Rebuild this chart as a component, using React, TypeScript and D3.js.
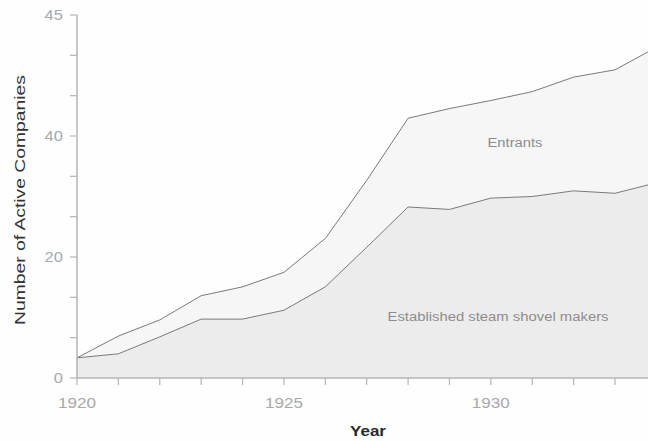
import React from "react";
import * as d3 from "d3";

const years = [1920, 1921, 1922, 1923, 1924, 1925, 1926, 1927, 1928, 1929, 1930, 1931, 1932, 1933, 1934];
const established = [2.5, 3.0, 5.1, 7.3, 7.3, 8.4, 11.3, 16.2, 21.2, 20.9, 22.3, 22.5, 23.2, 22.9, 24.2];
const total = [2.5, 5.2, 7.2, 10.2, 11.3, 13.1, 17.3, 24.5, 32.2, 33.4, 34.4, 35.5, 37.3, 38.2, 41.0];
const yTickValues = [0, 5, 10, 15, 20, 25, 30, 35, 40, 45];
const yTickLabels = ["0", "", "", "20", "", "", "40", "", "", "45"];
const xTickValues = [1920, 1921, 1922, 1923, 1924, 1925, 1926, 1927, 1928, 1929, 1930, 1931, 1932, 1933];
const xTickLabels = ["1920", "", "", "", "", "1925", "", "", "", "", "1930", "", "", ""];

export default function App() {
  const W = 648, H = 441;
  const x = d3.scaleLinear().domain([1920, 1933]).range([77, 615]);
  const y = d3.scaleLinear().domain([0, 45]).range([378, 15]);
  const data = years.map((yr, i) => ({ yr, est: established[i], tot: total[i] }));

  const lowerArea = d3.area<any>().x(d => x(d.yr)).y0(y(0)).y1(d => y(d.est))(data) || "";
  const upperArea = d3.area<any>().x(d => x(d.yr)).y0(d => y(d.est)).y1(d => y(d.tot))(data) || "";
  const estLine = d3.line<any>().x(d => x(d.yr)).y(d => y(d.est))(data) || "";
  const totLine = d3.line<any>().x(d => x(d.yr)).y(d => y(d.tot))(data) || "";

  const font = "'Liberation Sans', Arial, Helvetica, sans-serif";
  const axisColor = "#b4b4b4";
  const tickText = "#a8a8a8";

  return (
    <svg width={W} height={H} style={{ position: "fixed", left: 0, top: 0, background: "#fefefe" }}>
      <defs>
        <clipPath id="plotclip">
          <rect x={0} y={0} width={W} height={H} />
        </clipPath>
      </defs>
      <rect x={0} y={0} width={W} height={H} fill="#fefefe" />
      <g clipPath="url(#plotclip)">
        <path d={lowerArea} fill="#ececec" />
        <path d={upperArea} fill="#f6f6f6" />
        <path d={totLine} fill="none" stroke="#7a7a7a" strokeWidth={1} />
        <path d={estLine} fill="none" stroke="#7a7a7a" strokeWidth={1} />
      </g>

      {/* y axis */}
      <line x1={x(1920)} x2={x(1920)} y1={y(45)} y2={y(0)} stroke={axisColor} strokeWidth={1.5} />
      {yTickValues.map((v, i) => (
        <g key={"yt" + v}>
          <line x1={x(1920) - 7} x2={x(1920)} y1={y(v)} y2={y(v)} stroke={axisColor} strokeWidth={1.2} />
          {yTickLabels[i] && (
            <text x={x(1920) - 14} y={y(v)} dy="0.36em" textAnchor="end" fontFamily={font}
              fontSize={14} fill={tickText}
              textLength={yTickLabels[i].length * 9.2} lengthAdjust="spacingAndGlyphs">
              {yTickLabels[i]}
            </text>
          )}
        </g>
      ))}

      {/* x axis */}
      <line x1={x(1920)} x2={W} y1={y(0)} y2={y(0)} stroke={axisColor} strokeWidth={1.5} />
      {xTickValues.map((v, i) => (
        <g key={"xt" + v}>
          <line x1={x(v)} x2={x(v)} y1={y(0)} y2={y(0) + 7} stroke={axisColor} strokeWidth={1.2} />
          {xTickLabels[i] && (
            <text x={x(v)} y={408} textAnchor="middle" fontFamily={font} fontSize={14} fill={tickText}
              textLength={38} lengthAdjust="spacingAndGlyphs">
              {xTickLabels[i]}
            </text>
          )}
        </g>
      ))}

      {/* axis titles */}
      <text x={368} y={436} textAnchor="middle" fontFamily={font} fontSize={14} fontWeight="bold" fill="#2a2a2a"
        textLength={36} lengthAdjust="spacingAndGlyphs">Year</text>
      <text transform="translate(25,200) rotate(-90)" textAnchor="middle" fontFamily={font} fontSize={14}
        fill="#333" textLength={250} lengthAdjust="spacingAndGlyphs">Number of Active Companies</text>

      {/* area labels */}
      <text x={515} y={147} textAnchor="middle" fontFamily={font} fontSize={12} fill="#8c8c8c"
        textLength={55} lengthAdjust="spacingAndGlyphs">Entrants</text>
      <text x={498} y={321} textAnchor="middle" fontFamily={font} fontSize={12} fill="#8c8c8c"
        textLength={221} lengthAdjust="spacingAndGlyphs">Established steam shovel makers</text>
    </svg>
  );
}
